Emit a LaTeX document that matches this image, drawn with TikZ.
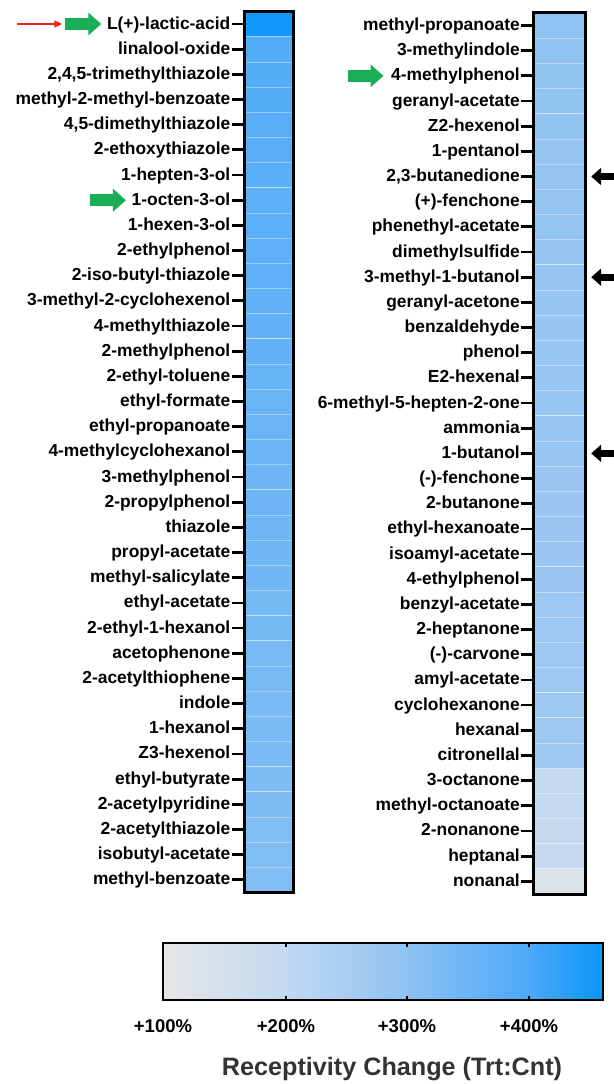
\documentclass[tikz,border=0pt]{standalone}
\usepackage{fontspec}
\setmainfont{Liberation Sans}
\usepackage{xcolor}
\usepackage{tikz}
\usetikzlibrary{arrows.meta, positioning, calc}
\definecolor{heatlo}{HTML}{E6E6E8}
\definecolor{heata}{HTML}{C2D9F0}
\definecolor{heatb}{HTML}{8EC2F2}
\definecolor{heatc}{HTML}{4CA9F7}
\definecolor{heathi}{HTML}{0A96FA}
\definecolor{markgreen}{HTML}{1AAE57}
\definecolor{markred}{HTML}{E8281E}
\definecolor{titlegray}{HTML}{333333}

\pgfdeclarehorizontalshading{heatbar}{100bp}{color(0bp)=(heatlo); color(25bp)=(heatlo); color(39bp)=(heata); color(52.5bp)=(heatb); color(66.5bp)=(heatc); color(75bp)=(heathi); color(100bp)=(heathi)}

% colour of one cell, value 0..100 along the bar
\newcommand{\heatset}[1]{%
  \pgfmathsetmacro{\hmval}{#1}%
  \ifdim\hmval pt<28pt
    \pgfmathsetmacro{\hmpct}{100*\hmval/28}\colorlet{heat}{heata!\hmpct!heatlo}%
  \else\ifdim\hmval pt<55pt
    \pgfmathsetmacro{\hmpct}{100*(\hmval-28)/27}\colorlet{heat}{heatb!\hmpct!heata}%
  \else\ifdim\hmval pt<83pt
    \pgfmathsetmacro{\hmpct}{100*(\hmval-55)/28}\colorlet{heat}{heatc!\hmpct!heatb}%
  \else
    \pgfmathsetmacro{\hmpct}{100*(\hmval-83)/17}\colorlet{heat}{heathi!\hmpct!heatc}%
  \fi\fi\fi}

\begin{document}
\begin{tikzpicture}[x=1pt, y=-1pt,
    lbl/.style={anchor=east, inner xsep=1.5pt, inner ysep=0pt, font=\fontsize{17.4}{20}\selectfont\bfseries, text height=12pt, text depth=2pt},
    cell/.style={draw=white, draw opacity=0.35, line width=0.5pt, inner sep=0pt, minimum height=25.17pt},
    tck/.style={line width=2.8pt},
    frame/.style={draw=black, line width=3pt},
    cbar/.style={draw=black, line width=2.5pt, shading=heatbar, minimum width=440pt, minimum height=57pt, inner sep=0pt},
    bartick/.style={line width=2pt},
    cblbl/.style={font=\fontsize{18.5}{20}\selectfont\bfseries},
    greenarr/.style={draw=markgreen, line width=12.4pt, -{Triangle[length=13pt, width=22pt]}},
    blackarr/.style={line width=7pt, -{Triangle[length=10pt, width=17pt]}},
    redarr/.style={draw=markred, line width=1.3pt, -{Triangle[length=8pt, width=7pt]}}
]
\useasboundingbox (0,0) rectangle (613,1084);

% Left column
\foreach \name/\val [count=\i] in {L(+)-lactic-acid/98, linalool-oxide/80, {2,4,5-trimethylthiazole}/79,
    methyl-2-methyl-benzoate/79, {4,5-dimethylthiazole}/78, 2-ethoxythiazole/78, 1-hepten-3-ol/77,
    1-octen-3-ol/76, 1-hexen-3-ol/76, 2-ethylphenol/75, 2-iso-butyl-thiazole/75, 3-methyl-2-cyclohexenol/74,
    4-methylthiazole/73, 2-methylphenol/73, 2-ethyl-toluene/72, ethyl-formate/71, ethyl-propanoate/71,
    4-methylcyclohexanol/70, 3-methylphenol/69, 2-propylphenol/69, thiazole/68, propyl-acetate/68,
    methyl-salicylate/67, ethyl-acetate/66, 2-ethyl-1-hexanol/66, acetophenone/65, 2-acetylthiophene/65,
    indole/64, 1-hexanol/63, Z3-hexenol/63, ethyl-butyrate/62, 2-acetylpyridine/62, 2-acetylthiazole/61,
    isobutyl-acetate/61, methyl-benzoate/60}{
  \heatset{\val}
  \node[cell, fill=heat, minimum width=48.5pt] (lc\i) at (269.25, {24+25.17*(\i-1)}) {};
  \node[lbl] (l\i) at (232, {24+25.17*(\i-1)}) {\name};
  \draw[tck] ([xshift=-13pt]lc\i.west) -- (lc\i.west);
}
\draw[frame] (lc1.north west) rectangle (lc35.south east);

% Right column
\foreach \name/\val [count=\i] in {methyl-propanoate/54, 3-methylindole/54, 4-methylphenol/53,
    geranyl-acetate/53, Z2-hexenol/53, 1-pentanol/52, {2,3-butanedione}/52, (+)-fenchone/52,
    phenethyl-acetate/52, dimethylsulfide/51, 3-methyl-1-butanol/51, geranyl-acetone/51, benzaldehyde/51,
    phenol/50, E2-hexenal/50, 6-methyl-5-hepten-2-one/50, ammonia/50, 1-butanol/50,
    {(-)-fenchone\hspace{8pt}}/49, 2-butanone/49, ethyl-hexanoate/49, isoamyl-acetate/49, 4-ethylphenol/49,
    benzyl-acetate/48, 2-heptanone/48, (-)-carvone/48, amyl-acetate/48, cyclohexanone/47, hexanal/47,
    citronellal/47, 3-octanone/27, methyl-octanoate/27, 2-nonanone/26, heptanal/26, nonanal/8}{
  \heatset{\val}
  \node[cell, fill=heat, minimum width=51.7pt] (rc\i) at (559.8, {25.5+25.17*(\i-1)}) {};
  \node[lbl] (r\i) at (521.5, {25.5+25.17*(\i-1)}) {\name};
  \draw[tck] ([xshift=-13pt]rc\i.west) -- (rc\i.west);
}
\draw[frame] (rc1.north west) rectangle (rc35.south east);

% Markers
\coordinate (gstart) at ([xshift=-40pt]l1.west);
\draw[redarr] ([xshift=-48pt]gstart) -- ([xshift=-3pt]gstart);
\draw[greenarr] (gstart) -- ([xshift=-4pt]l1.west);
\draw[greenarr] ([xshift=-40pt]l8.west) -- ([xshift=-4pt]l8.west);
\draw[greenarr] ([xshift=-42pt]r3.west) -- ([xshift=-6pt]r3.west);
\draw[blackarr] ([xshift=30pt]rc7.east) -- ([xshift=5.3pt]rc7.east);
\draw[blackarr] ([xshift=30pt]rc11.east) -- ([xshift=5.3pt]rc11.east);
\draw[blackarr] ([xshift=30pt]rc18.east) -- ([xshift=5.3pt]rc18.east);

% Colour bar
\node[cbar] (bar) at (383, 971.5) {};
\node[cblbl] (p100) at (163, 1026) {+100\%};
\node[cblbl] (p200) at (286, 1026) {+200\%};
\node[cblbl] (p300) at (407, 1026) {+300\%};
\node[cblbl] (p400) at (529, 1026) {+400\%};
\foreach \p in {p200, p300, p400}{
  \draw[bartick] (\p |- bar.north) -- ++(0,5);
  \draw[bartick] (\p |- bar.south) -- ++(0,-5);
}
\node[font=\fontsize{25.2}{28}\selectfont\bfseries, text=titlegray] (cbtitle) at (392, 1069) {Receptivity Change (Trt:Cnt)};
\end{tikzpicture}
\end{document}
